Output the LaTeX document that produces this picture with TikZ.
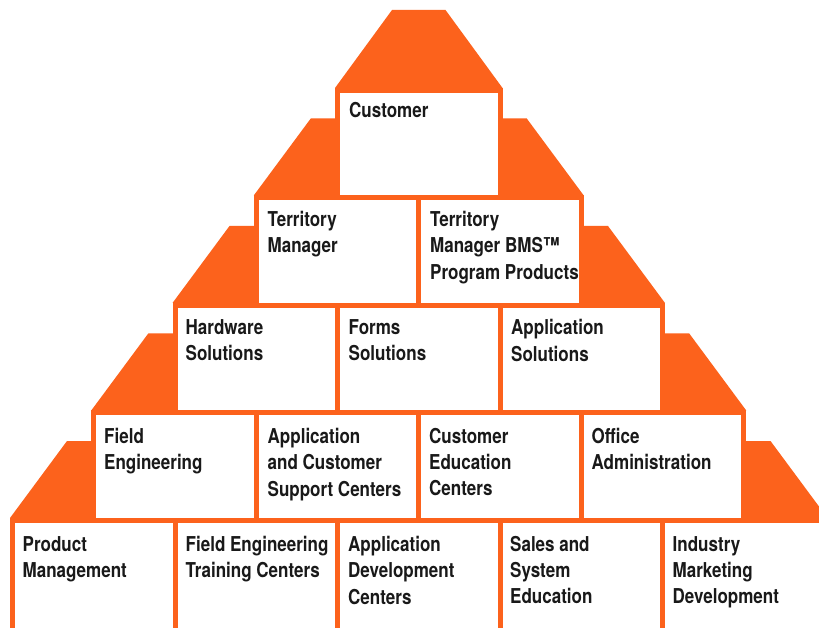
\documentclass[tikz,border=0pt]{standalone}
\usepackage{fontspec}
\setmainfont{TeX Gyre Heros}[FakeStretch=0.83]
\usepackage{tikz}
\usetikzlibrary{positioning}
\definecolor{pyrorange}{RGB}{252,98,28}
\definecolor{inkgray}{RGB}{25,25,25}

\begin{document}
\begin{tikzpicture}[x=1pt, y=1pt,
    box/.style={draw=pyrorange, line width=5pt, fill=white},
    roof/.style={fill=pyrorange},
    lbl/.style={anchor=north west, inner sep=0pt, align=left, text=inkgray,
        font=\fontsize{20.5}{26.3}\selectfont\bfseries}]
            \clip (0,0) rectangle (819,627);
            \fill[white] (0,0) rectangle (819,627);

            % Roofs
            \fill[roof] (335,539) -- (392,617) -- (445.5,617) -- (502.5,539) -- cycle;
            \fill[roof] (253.75,431.5) -- (310.75,508.5) -- (337.5,508.5) -- (337.5,431.5) -- cycle;
            \fill[roof] (583.75,431.5) -- (526.75,508.5) -- (500,508.5) -- (500,431.5) -- cycle;
            \fill[roof] (172.5,324) -- (229.5,401) -- (256.25,401) -- (256.25,324) -- cycle;
            \fill[roof] (665,324) -- (608,401) -- (581.25,401) -- (581.25,324) -- cycle;
            \fill[roof] (91.25,216.5) -- (148.25,293.5) -- (175,293.5) -- (175,216.5) -- cycle;
            \fill[roof] (746.25,216.5) -- (689.25,293.5) -- (662.5,293.5) -- (662.5,216.5) -- cycle;
            \fill[roof] (10,109) -- (67,186) -- (93.75,186) -- (93.75,109) -- cycle;
            \fill[roof] (827.5,109) -- (770.5,186) -- (743.75,186) -- (743.75,109) -- cycle;

            % Row 1
            \draw[box] (337.5,429) rectangle (500,536.5);
            \node[lbl] (cust) at (349,524.5) {Customer};

            % Row 2
            \draw[box] (256.25,321.5) rectangle (418.75,429);
            \draw[box] (418.75,321.5) rectangle (581.25,429);
            \node[lbl] (terrmgr) at (267.5,416) {Territory\\Manager};
            \node[lbl] (terrbms) at (430,416) {Territory\\Manager BMS™\\Program Products};

            % Row 3
            \draw[box] (175,214) rectangle (337.5,321.5);
            \draw[box] (337.5,214) rectangle (500,321.5);
            \draw[box] (500,214) rectangle (662.5,321.5);
            \node[lbl] (hwsol) at (185.5,307.5) {Hardware\\Solutions};
            \node[lbl] (formsol) at (348.5,307.5) {Forms\\Solutions};
            \node[lbl] (appsol) at (511,307.5) {Application\\Solutions};

            % Row 4
            \draw[box] (93.75,106.5) rectangle (256.25,214);
            \draw[box] (256.25,106.5) rectangle (418.75,214);
            \draw[box] (418.75,106.5) rectangle (581.25,214);
            \draw[box] (581.25,106.5) rectangle (743.75,214);
            \node[lbl] (fieldeng) at (104,199) {Field\\Engineering};
            \node[lbl] (appsupp) at (267.5,199) {Application\\and Customer\\Support Centers};
            \node[lbl] (custedu) at (429,199) {Customer\\Education\\Centers};
            \node[lbl] (office) at (591.5,199) {Office\\Administration};

            % Row 5
            \draw[box] (12.5,-8) rectangle (175,106.5);
            \draw[box] (175,-8) rectangle (337.5,106.5);
            \draw[box] (337.5,-8) rectangle (500,106.5);
            \draw[box] (500,-8) rectangle (662.5,106.5);
            \draw[box] (662.5,-8) rectangle (825,106.5);
            \node[lbl] (prodmgmt) at (22.5,91) {Product\\Management};
            \node[lbl] (fetrain) at (185.5,91) {Field Engineering\\Training Centers};
            \node[lbl] (appdev) at (348,91) {Application\\Development\\Centers};
            \node[lbl] (salesedu) at (510,91) {Sales and\\System\\Education};
            \node[lbl] (industry) at (672.5,91) {Industry\\Marketing\\Development};

        \end{tikzpicture}
\end{document}
